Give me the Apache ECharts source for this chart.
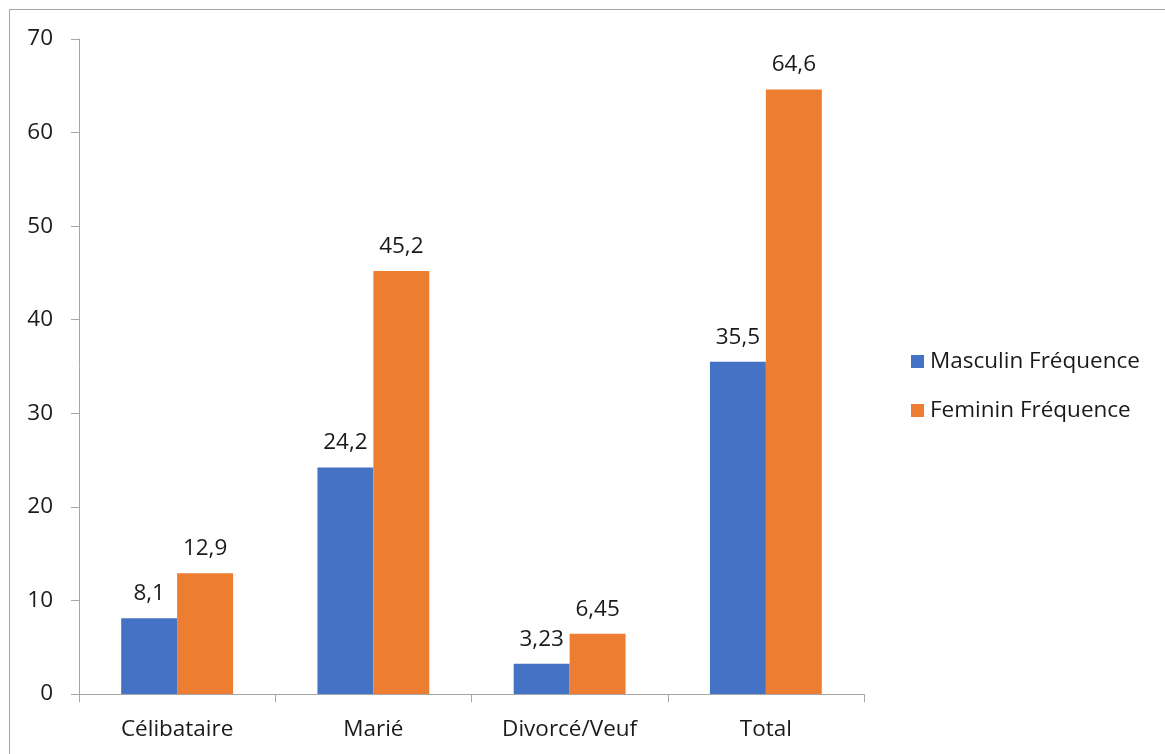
<!DOCTYPE html>
<html>
<head>
<meta charset="utf-8">
<script src="https://cdn.jsdelivr.net/npm/echarts@6/dist/echarts.min.js"></script>
<style>
  html, body { margin: 0; padding: 0; background: #fff; }
  #frame { position: absolute; left: 9px; top: 9px; width: 1170px; height: 760px; border: 1px solid #a6a6a6; box-sizing: border-box; }
  #chart { position: absolute; left: 0; top: 0; width: 1165px; height: 754px; }
</style>
</head>
<body>
<div id="frame"></div>
<div id="chart"></div>
<script>
// Frequencies by marital status and sex
const categories = ['Célibataire', 'Marié', 'Divorcé/Veuf', 'Total'];
const masculin = [8.1, 24.2, 3.23, 35.5];
const feminin = [12.9, 45.2, 6.45, 64.6];
const seriesNames = ['Masculin Fréquence', 'Feminin Fréquence'];

const FONT = '"Open Sans", "Noto Sans", sans-serif';
const FS = 22.5;
const fmt = p => String(p.value).replace('.', ',');

const chart = echarts.init(document.getElementById('chart'), null, { renderer: 'canvas' });
chart.setOption({
  backgroundColor: 'transparent',
  animation: false,
  textStyle: { fontFamily: FONT },
  grid: { left: 79, right: 301, top: 39, bottom: 60, containLabel: false },
  legend: {
    orient: 'vertical',
    left: 906,
    top: 345,
    itemWidth: 13,
    itemHeight: 13,
    itemGap: 26,
    icon: 'rect',
    textStyle: { fontSize: FS, color: '#1a1a1a', fontFamily: FONT, padding: [0, 0, 0, 1] },
    data: seriesNames
  },
  xAxis: {
    type: 'category',
    data: categories,
    axisLine: { lineStyle: { color: '#a6a6a6', width: 1 } },
    axisTick: { show: true, length: 8, lineStyle: { color: '#a6a6a6' } },
    axisLabel: { fontSize: FS, color: '#1a1a1a', margin: 24, fontFamily: FONT }
  },
  yAxis: {
    type: 'value',
    min: 0,
    max: 70,
    interval: 10,
    axisLine: { show: true, lineStyle: { color: '#a6a6a6', width: 1 } },
    axisTick: { show: true, length: 8, lineStyle: { color: '#a6a6a6' } },
    splitLine: { show: false },
    axisLabel: { fontSize: FS, color: '#1a1a1a', margin: 26, fontFamily: FONT }
  },
  series: [
    {
      name: seriesNames[0],
      type: 'bar',
      data: masculin,
      itemStyle: { color: '#4472c4' },
      barGap: '0%',
      barCategoryGap: '43%',
      label: { show: true, position: 'top', distance: 13, fontSize: FS, color: '#1a1a1a', fontFamily: FONT, formatter: fmt }
    },
    {
      name: seriesNames[1],
      type: 'bar',
      data: feminin,
      itemStyle: { color: '#ed7d31' },
      barGap: '0%',
      barCategoryGap: '43%',
      label: { show: true, position: 'top', distance: 13, fontSize: FS, color: '#1a1a1a', fontFamily: FONT, formatter: fmt }
    }
  ]
});
</script>
</body>
</html>
